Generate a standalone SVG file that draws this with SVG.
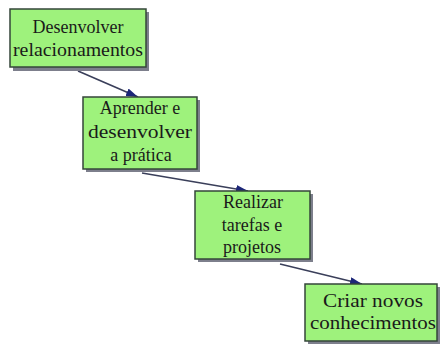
<svg xmlns="http://www.w3.org/2000/svg" width="440" height="344" viewBox="0 0 440 344">
<defs>
<marker id="ah" viewBox="0 0 12 8" refX="12" refY="4" markerWidth="12" markerHeight="8" markerUnits="userSpaceOnUse" orient="auto">
<path d="M0,0 L12,4 L0,8 Z" fill="#1c2678"/>
</marker>
<style>
.sh{fill:#7d7f8c}
.bx{fill:#9ef27c;stroke:#34463a;stroke-width:1.5}
.t{font-family:"Liberation Serif","Times New Roman",serif;font-size:18px;fill:#1a1a1a;text-anchor:middle}
.c{stroke:#3a3f5a;stroke-width:1.6;fill:none;marker-end:url(#ah)}
</style>
</defs>
<rect width="440" height="344" fill="#ffffff"/>
<g id="connectors">
<line class="c" x1="78" y1="71" x2="138" y2="97"/>
<line class="c" x1="142" y1="173" x2="248" y2="191"/>
<line class="c" x1="280" y1="264" x2="362" y2="284"/>
</g>
<g id="n1">
<rect class="sh" x="13" y="12" width="136" height="59"/>
<rect class="bx" x="10" y="9" width="136" height="58"/>
<text class="t" x="78" y="33">Desenvolver</text>
<text class="t" x="78" y="56" textLength="130" lengthAdjust="spacingAndGlyphs">relacionamentos</text>
</g>
<g id="n2">
<rect class="sh" x="86" y="100" width="114" height="72"/>
<rect class="bx" x="83" y="97" width="114" height="72"/>
<text class="t" x="140" y="114">Aprender e</text>
<text class="t" x="140" y="138" textLength="104" lengthAdjust="spacingAndGlyphs">desenvolver</text>
<text class="t" x="141" y="161">a prática</text>
</g>
<g id="n3">
<rect class="sh" x="198" y="194" width="115" height="68"/>
<rect class="bx" x="195" y="191" width="115" height="68"/>
<text class="t" x="253" y="208">Realizar</text>
<text class="t" x="252" y="231">tarefas e</text>
<text class="t" x="252" y="253">projetos</text>
</g>
<g id="n4">
<rect class="sh" x="308" y="287" width="132" height="57"/>
<rect class="bx" x="305" y="284" width="132" height="57"/>
<text class="t" x="373" y="307" textLength="100" lengthAdjust="spacingAndGlyphs">Criar novos</text>
<text class="t" x="373" y="329" textLength="126" lengthAdjust="spacingAndGlyphs">conhecimentos</text>
</g>
</svg>
